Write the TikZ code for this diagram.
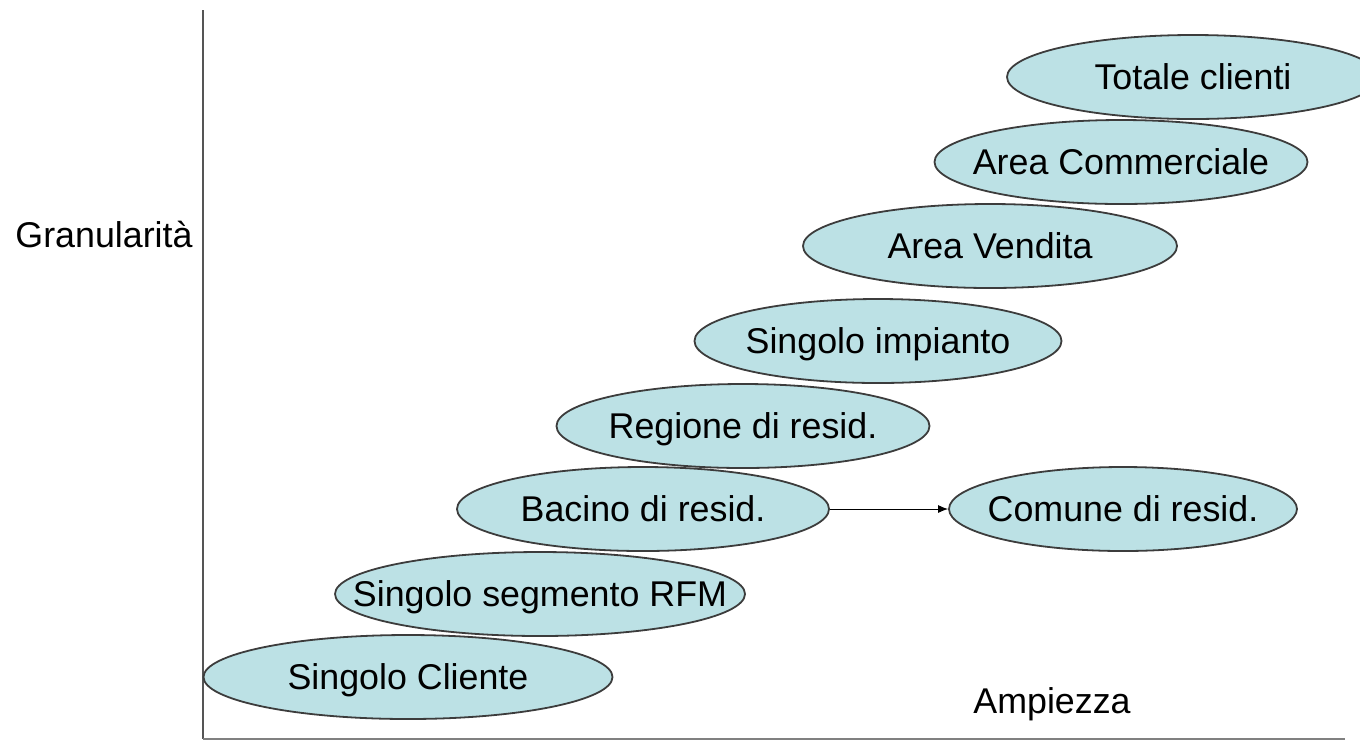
\documentclass[tikz,border=0pt]{standalone}
\usepackage{fontspec}
\setmainfont{Liberation Sans}
\usetikzlibrary{shapes.geometric,arrows.meta}
\definecolor{ovalfill}{RGB}{188,225,229}
\definecolor{ovalline}{RGB}{60,60,60}
\definecolor{axisline}{RGB}{85,85,85}

\begin{document}
\begin{tikzpicture}[x=0.5pt,y=-0.5pt,every node/.style={font=\fontsize{17.9}{21}\selectfont},every label/.style={text height=12.8pt,text depth=0pt,inner sep=0pt},oval/.style={ellipse,draw=ovalline,line width=0.9pt,fill=ovalfill,inner sep=0pt,minimum height=42pt,minimum width=#1}]
			\clip (0,0) rectangle (1360,741);
			\coordinate (top) at (203,10);
			\coordinate (origin) at (203,739);
			\coordinate (right) at (1345,739);
			\draw [axisline,line width=1.2pt] (top) -- (origin);
			\draw [gray,line width=0.8pt] (origin) -- (right);
			\node [anchor=base] (gran) at (104,247) {Granularità};
			\node [anchor=base] (ampiezza) at (1052,713) {Ampiezza};
			\node [oval=204.5pt,label=center:Singolo Cliente] (cliente) at (408,677) {};
			\node [oval=205pt,label=center:Singolo segmento RFM] (rfm) at (540,594) {};
			\node [oval=186pt,label=center:Bacino di resid.] (bacino) at (643,509) {};
			\node [oval=174pt,label=center:Comune di resid.] (comune) at (1123,509) {};
			\node [oval=186.5pt,label=center:Regione di resid.] (regione) at (743,426) {};
			\node [oval=183.5pt,label=center:Singolo impianto] (impianto) at (878,341) {};
			\node [oval=187pt,label=center:Area Vendita] (vendita) at (990,246) {};
			\node [oval=186.5pt,label=center:Area Commerciale] (commerciale) at (1121,162) {};
			\node [oval=186pt,label=center:Totale clienti] (totale) at (1193,77) {};
			\draw [-{Latex[length=5pt,width=4pt]},line width=0.5pt] (bacino) -- (comune);
		\end{tikzpicture}
\end{document}
